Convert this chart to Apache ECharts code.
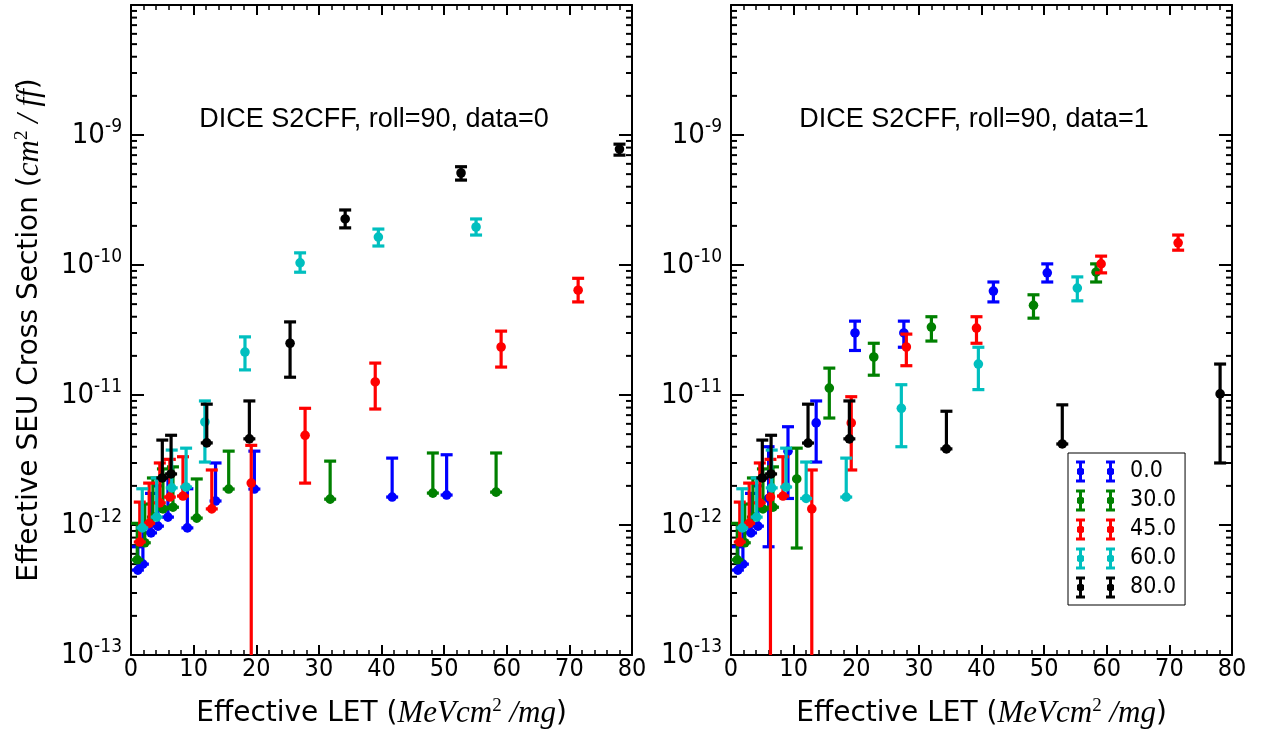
<!DOCTYPE html>
<html>
<head>
<meta charset="utf-8">
<script src="https://cdn.jsdelivr.net/npm/echarts@6/dist/echarts.min.js"></script>
<style>html,body{margin:0;padding:0;background:#fff}#c{width:1263px;height:731px}</style>
</head>
<body>
<div id="c"></div>
<script>
// ---- data: [LET, cross section, lower, upper] ----
const seriesNames = ['0.0', '30.0', '45.0', '60.0', '80.0'];
const seriesColors = ['#0000ff', '#008000', '#ff0000', '#00bfbf', '#000000'];
const panelTitles = ['DICE S2CFF, roll=90, data=0', 'DICE S2CFF, roll=90, data=1'];
const xTicks = [0, 10, 20, 30, 40, 50, 60, 70, 80];
const yDecades = [-13, -12, -11, -10, -9];
const yMinorMultipliers = [2, 3, 4, 5, 6, 7, 8, 9];

// panel data=0
const left_0 = [[1.1,4.5e-13,4.5e-13,6.8e-13],[1.9,5.0e-13,5.0e-13,9.5e-13],[3.2,8.7e-13,8.7e-13,1.75e-12],[4.3,9.8e-13,9.8e-13,2.0e-12],[5.9,1.15e-12,1.15e-12,2.3e-12],[9.0,9.5e-13,9.5e-13,1.9e-12],[13.5,1.53e-12,1.53e-12,3.0e-12],[19.7,1.89e-12,1.89e-12,3.7e-12],[41.7,1.64e-12,1.64e-12,3.27e-12],[50.4,1.70e-12,1.70e-12,3.47e-12]];
const left_30 = [[1.0,5.4e-13,5.4e-13,1.03e-12],[2.2,7.3e-13,7.3e-13,1.45e-12],[3.5,1.15e-12,1.15e-12,2.3e-12],[5.1,1.33e-12,1.33e-12,2.7e-12],[6.7,1.37e-12,1.37e-12,2.8e-12],[10.5,1.13e-12,1.13e-12,2.26e-12],[15.6,1.89e-12,1.89e-12,3.7e-12],[31.8,1.58e-12,1.58e-12,3.1e-12],[48.2,1.76e-12,1.76e-12,3.58e-12],[58.3,1.79e-12,1.79e-12,3.58e-12]];
const left_45 = [[1.4,7.4e-13,7.4e-13,1.5e-12],[2.9,1.03e-12,1.03e-12,2.1e-12],[4.6,1.48e-12,1.48e-12,3.0e-12],[6.2,1.64e-12,1.64e-12,3.2e-12],[8.3,1.67e-12,1.67e-12,3.35e-12],[12.9,1.33e-12,1.33e-12,2.65e-12],[19.2,2.1e-12,1e-14,4.1e-12],[27.8,4.9e-12,2.1e-12,7.9e-12],[39.0,1.26e-11,7.8e-12,1.76e-11],[59.1,2.34e-11,1.64e-11,3.1e-11],[71.4,6.4e-11,5.2e-11,7.9e-11]];
const left_60 = [[1.8,9.5e-13,9.5e-13,1.9e-12],[4.1,1.15e-12,1.15e-12,2.3e-12],[6.5,1.93e-12,1.93e-12,3.77e-12],[8.8,1.96e-12,1.96e-12,3.9e-12],[11.8,6.2e-12,3.05e-12,9.0e-12],[18.2,2.14e-11,1.56e-11,2.8e-11],[27.0,1.04e-10,8.8e-11,1.24e-10],[39.5,1.64e-10,1.40e-10,1.89e-10],[55.1,1.96e-10,1.70e-10,2.26e-10]];
const left_80 = [[5.0,2.3e-12,2.3e-12,4.5e-12],[6.4,2.47e-12,2.47e-12,4.9e-12],[12.1,4.28e-12,4.28e-12,8.5e-12],[18.9,4.6e-12,4.6e-12,9.0e-12],[25.4,2.5e-11,1.37e-11,3.65e-11],[34.2,2.26e-10,1.93e-10,2.65e-10],[52.7,5.1e-10,4.5e-10,5.7e-10],[78.0,7.8e-10,7.0e-10,8.5e-10]];

// panel data=1
const right_0 = [[1.1,4.5e-13,4.5e-13,6.8e-13],[1.9,5.0e-13,5.0e-13,9.5e-13],[3.2,8.7e-13,8.7e-13,1.75e-12],[4.3,9.8e-13,9.8e-13,2.0e-12],[6.0,1.6e-12,6.8e-13,4.0e-12],[9.1,3.7e-12,1.6e-12,5.7e-12],[13.6,6.1e-12,3.05e-12,9.0e-12],[19.8,3.0e-11,2.2e-11,3.7e-11],[27.6,3.0e-11,2.33e-11,3.7e-11],[41.9,6.3e-11,5.2e-11,7.4e-11],[50.5,8.7e-11,7.4e-11,1.02e-10]];
const right_30 = [[1.0,5.4e-13,5.4e-13,1.03e-12],[2.2,7.3e-13,7.3e-13,1.45e-12],[3.5,1.15e-12,1.15e-12,2.3e-12],[5.1,1.33e-12,1.33e-12,2.7e-12],[6.7,1.37e-12,1.37e-12,2.8e-12],[10.5,2.26e-12,6.65e-13,3.9e-12],[15.7,1.13e-11,6.65e-12,1.61e-11],[22.8,1.96e-11,1.42e-11,2.5e-11],[32.0,3.33e-11,2.6e-11,4.0e-11],[48.3,4.9e-11,3.9e-11,5.9e-11],[58.3,8.8e-11,7.4e-11,1.02e-10]];
const right_45 = [[1.4,7.4e-13,7.4e-13,1.5e-12],[2.9,1.03e-12,1.03e-12,2.1e-12],[4.6,1.48e-12,1.48e-12,3.0e-12],[6.3,1.64e-12,1e-14,3.2e-12],[8.3,1.67e-12,1.67e-12,3.35e-12],[12.9,1.33e-12,1e-14,2.65e-12],[19.2,6.1e-12,2.65e-12,9.7e-12],[28.0,2.34e-11,1.68e-11,2.94e-11],[39.2,3.27e-11,2.5e-11,4.0e-11],[59.1,1.02e-10,8.7e-11,1.17e-10],[71.4,1.48e-10,1.30e-10,1.70e-10]];
const right_60 = [[1.8,9.5e-13,9.5e-13,1.9e-12],[4.1,1.15e-12,1.15e-12,2.3e-12],[6.5,1.93e-12,1.93e-12,3.77e-12],[8.8,1.96e-12,1.96e-12,3.9e-12],[12.0,1.6e-12,1.6e-12,3.05e-12],[18.4,1.64e-12,1.64e-12,3.27e-12],[27.2,7.9e-12,4.0e-12,1.2e-11],[39.5,1.73e-11,1.1e-11,2.33e-11],[55.3,6.65e-11,5.3e-11,8.1e-11]];
const right_80 = [[5.0,2.3e-12,2.3e-12,4.5e-12],[6.4,2.47e-12,2.47e-12,4.9e-12],[12.3,4.27e-12,4.27e-12,8.5e-12],[18.9,4.6e-12,4.6e-12,9.0e-12],[34.4,3.85e-12,3.85e-12,7.5e-12],[52.9,4.2e-12,4.2e-12,8.4e-12],[78.1,1.02e-11,3.0e-12,1.73e-11]];

const panels = [[left_0, left_30, left_45, left_60, left_80], [right_0, right_30, right_45, right_60, right_80]];

// ---- build ----
const LBL_FONT = "'DejaVu Sans Condensed', 'DejaVu Sans', sans-serif";
const NAME_FONT = "'DejaVu Sans', sans-serif";
const MATH_FONT = "'Liberation Serif', serif";
const minorVals = [];
yDecades.forEach(d => yMinorMultipliers.forEach(m => minorVals.push(m * Math.pow(10, d))));

function errRender(params, api) {
  const x = api.value(0), y = api.value(1), lo = api.value(2), hi = api.value(3);
  const cs = params.coordSys;
  const bottom = cs.y + cs.height;
  const c = api.coord([x, y]);
  const pl = api.coord([x, lo]);
  const ph = api.coord([x, hi]);
  const col = api.visual('color');
  let yl = pl[1]; let clipped = false;
  if (!(yl <= bottom)) { yl = bottom; clipped = true; }
  const cw = 6;
  const st = { stroke: col, lineWidth: 3.2 };
  const ch = [
    { type: 'line', shape: { x1: c[0], y1: ph[1], x2: c[0], y2: yl }, style: st },
    { type: 'line', shape: { x1: c[0] - cw, y1: ph[1], x2: c[0] + cw, y2: ph[1] }, style: st },
    { type: 'circle', shape: { cx: c[0], cy: c[1], r: 4.8 }, style: { fill: col } }
  ];
  if (!clipped) ch.push({ type: 'line', shape: { x1: c[0] - cw, y1: yl, x2: c[0] + cw, y2: yl }, style: st });
  return { type: 'group', children: ch };
}

function minorRender(params, api) {
  const v = api.value(1);
  const a = api.coord([0, v]);
  const b = api.coord([80, v]);
  const st = { stroke: '#000', lineWidth: 2 };
  return { type: 'group', children: [
    { type: 'line', shape: { x1: a[0], y1: a[1], x2: a[0] + 6, y2: a[1] }, style: st },
    { type: 'line', shape: { x1: b[0] - 6, y1: b[1], x2: b[0], y2: b[1] }, style: st }
  ]};
}

const grids = [
  { left: 131, right: 631, top: 5, bottom: 76, containLabel: false, outerBoundsMode: 'none' },
  { left: 731, right: 31, top: 5, bottom: 76, containLabel: false, outerBoundsMode: 'none' }
];
const nameRich = {
  t: { fontSize: 28, fontFamily: NAME_FONT, color: '#000' },
  m: { fontSize: 31, fontFamily: MATH_FONT, fontStyle: 'italic', color: '#000' },
  s: { fontSize: 19, fontFamily: MATH_FONT, color: '#000', verticalAlign: 'top', padding: [0, 0, 14, 0] }
};
const xAxes = [], yAxes = [], series = [];
const axisLine = { show: true, onZero: false, lineStyle: { color: '#000', width: 2 } };
for (let g = 0; g < 2; g++) {
  const xBase = {
    type: 'value', gridIndex: g, min: 0, max: 80, interval: 10,
    axisLine: axisLine,
    axisTick: { show: true, inside: true, length: 10, lineStyle: { color: '#000', width: 2 } },
    minorTick: { show: true, splitNumber: 5, length: 5, lineStyle: { color: '#000', width: 1.5 } },
    splitLine: { show: false }, minorSplitLine: { show: false }
  };
  xAxes.push(Object.assign({}, xBase, {
    position: 'bottom',
    axisLabel: { show: true, color: '#000', fontSize: 25, fontFamily: LBL_FONT, margin: 2,
      formatter: v => xTicks.indexOf(v) >= 0 ? String(v) : '' },
    name: '{t|Effective LET (}{m|MeVcm}{s|2}{m| /mg}{t|)}',
    nameLocation: 'middle', nameGap: 42,
    nameTextStyle: { rich: nameRich }
  }));
  xAxes.push(Object.assign({}, xBase, { position: 'top', axisLabel: { show: false } }));
  const yBase = {
    type: 'log', logBase: 10, gridIndex: g, min: 1e-13, max: 1e-8,
    axisLine: axisLine,
    axisTick: { show: true, inside: true, length: 13, lineStyle: { color: '#000', width: 2 } },
    minorTick: { show: false }, splitLine: { show: false }
  };
  const yl = Object.assign({}, yBase, {
    position: 'left',
    axisLabel: { show: true, margin: 9,
      formatter: v => { const e = Math.round(Math.log10(v)); return e >= -8 ? '' : '{b|10}{s|' + e + '}'; },
      rich: {
        b: { fontSize: 29, fontFamily: LBL_FONT, color: '#000' },
        s: { fontSize: 19, fontFamily: LBL_FONT, color: '#000', verticalAlign: 'top', padding: [0, 0, 15, 0] }
      } }
  });
  if (g === 0) {
    yl.name = '{t|Effective SEU Cross Section (}{m|cm}{s|2}{m| / ff}{t|)}';
    yl.nameLocation = 'middle';
    yl.nameGap = 85;
    yl.nameRotate = 90;
    yl.nameTextStyle = { rich: nameRich };
  }
  yAxes.push(yl);
  yAxes.push(Object.assign({}, yBase, { position: 'right', axisLabel: { show: false } }));

  series.push({
    type: 'custom', name: '_minor' + g, xAxisIndex: g * 2, yAxisIndex: g * 2, silent: true,
    renderItem: minorRender, data: minorVals.map(v => [0, v]), z: 1
  });
  panels[g].forEach((d, i) => {
    series.push({
      type: 'custom', name: seriesNames[i], xAxisIndex: g * 2, yAxisIndex: g * 2,
      itemStyle: { color: seriesColors[i] }, renderItem: errRender,
      encode: { x: 0, y: 1 }, data: d, z: 2 + i
    });
  });
}

const beam = (cx) => `M${cx-4.5},0H${cx+4.5}V3H${cx+1.5}V19H${cx+4.5}V22H${cx-4.5}V19H${cx-1.5}V3H${cx-4.5}Z` +
  `M${cx},6.5L${cx+3.5},8.5L${cx+3.5},13.5L${cx},15.5L${cx-3.5},13.5L${cx-3.5},8.5Z`;
const legendIcon = 'path://' + beam(4.5) + beam(34.5);

const option = {
  animation: false,
  backgroundColor: '#fff',
  grid: grids,
  xAxis: xAxes,
  yAxis: yAxes,
  legend: {
    data: seriesNames, orient: 'vertical', left: 1068, top: 453,
    icon: legendIcon, itemWidth: 39, itemHeight: 22, itemGap: 6,
    padding: [7, 9, 6, 8], borderColor: '#000', borderWidth: 1, borderRadius: 0,
    backgroundColor: '#fff', selectedMode: false,
    textStyle: { fontSize: 23, fontFamily: LBL_FONT, color: '#000', padding: [0, 0, 0, 10] }
  },
  graphic: panelTitles.map((t, i) => ({
    type: 'text', x: i === 0 ? 374 : 974, y: 120,
    style: { text: t, fill: '#000', font: "27px 'Liberation Sans', Arial, sans-serif", textAlign: 'center', textVerticalAlign: 'middle' }
  })),
  series: series
};
const chart = echarts.init(document.getElementById('c'), null, { renderer: 'canvas' });
chart.setOption(option);
</script>
</body>
</html>
